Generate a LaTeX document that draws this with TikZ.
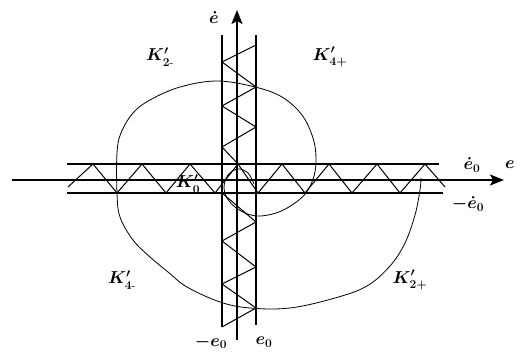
\documentclass[tikz,border=0pt]{standalone}
\usepackage{amsmath}
\usetikzlibrary{arrows.meta}
\begin{document}
\begin{tikzpicture}[x=1pt,y=-1pt,
  axis/.style={line width=1.4pt,-{Stealth[length=14pt,width=11pt,inset=3pt]}},
  band/.style={line width=1.1pt},
  zig/.style={line width=1pt,line join=miter},
  spiral/.style={line width=0.8pt},
  lab/.style={font=\LARGE\boldmath,inner sep=0pt}]
\useasboundingbox (0,0) rectangle (527,352);
% axes
\coordinate (xs) at (12,180);
\coordinate (xe) at (504,180);
\coordinate (ys) at (237,340);
\coordinate (ye) at (237,10);
\draw[axis] (xs) -- (xe);
\draw[axis] (ys) -- (ye);
% band lines
\coordinate (l1) at (222,35);  \coordinate (l2) at (222,327);
\coordinate (r1) at (256,35);  \coordinate (r2) at (256,325);
\coordinate (t1) at (67,164);  \coordinate (t2) at (439,164);
\coordinate (b1) at (67,193);  \coordinate (b2) at (443,193);
\draw[band] (l1) -- (l2);
\draw[band] (r1) -- (r2);
\draw[band] (t1) -- (t2);
\draw[band] (b1) -- (b2);
% horizontal zigzag
\draw[zig] (68,187) -- (93,164) -- (117,193) -- (142,164) -- (166,193)
  -- (190,164) -- (215,193) -- (238,164) -- (258,193) -- (282,164)
  -- (305,193) -- (329,164) -- (352,193) -- (377,164) -- (400,193)
  -- (425,164) -- (445,187);
% vertical zigzag
\draw[zig] (256,45) -- (222,62) -- (256,87) -- (222,106) -- (256,127)
  -- (222,147) -- (238,164);
\draw[zig] (222,193) -- (256,222) -- (222,241) -- (256,267) -- (222,284)
  -- (256,308) -- (222,327);
% spiral
\draw[spiral] plot[smooth,tension=0.6] coordinates {
  (254,184) (248,173) (238,169) (228,175) (224,188) (229,201) (241,211)
  (257,216) (276,213) (292,205) (306,193) (314,176) (316,158) (313,138)
  (302,115) (282,97) (255,87) (217,81) (180,87) (150,100) (133,113)
  (121,133) (117,153) (117,193) (120,217) (133,240) (150,257) (168,272)
  (187,287) (220,302) (250,308) (290,308) (335,298) (367,286) (390,266)
  (405,243) (415,215) (420,190) (421,178)};
% labels
\node[lab] (ed) at (214,18) {$\dot e$};
\node[lab] (k2m) at (160,57) {$K'_{2\text{-}}$};
\node[lab] (k4p) at (330,57) {$K'_{4+}$};
\node[lab] (k4m) at (122,280) {$K'_{4\text{-}}$};
\node[lab] (k2p) at (410,280) {$K'_{2+}$};
\node[lab] (k0) at (188,184) {$K'_0$};
\node[lab] (ed0) at (472,165) {$\dot e_0$};
\node[lab] (ee) at (510,165) {$e$};
\node[lab] (med0) at (468,204) {$-\dot e_0$};
\node[lab] (me0) at (211,342) {$-e_0$};
\node[lab] (e0) at (264,342) {$e_0$};
\end{tikzpicture}
\end{document}
